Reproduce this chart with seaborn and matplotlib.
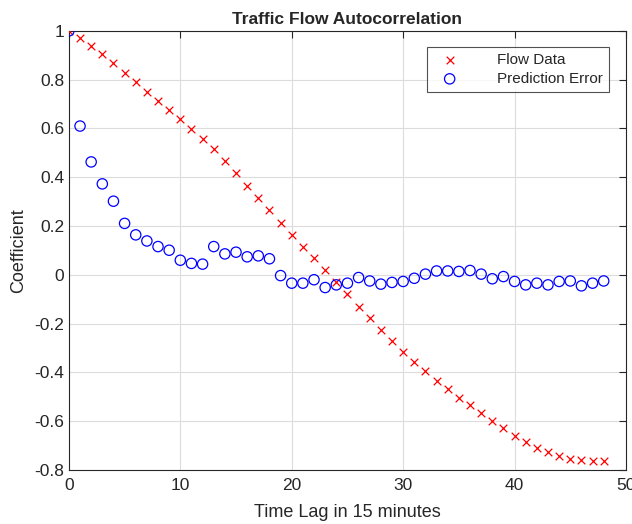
import numpy as np
import pandas as pd
import seaborn as sns
import matplotlib.pyplot as plt

# lags 0..48 (15 minute steps)
lags = list(range(49))

flow_data = [1.0, 0.97, 0.94, 0.904, 0.867, 0.829, 0.79, 0.751, 0.713, 0.676,
             0.638, 0.598, 0.557, 0.516, 0.467, 0.419, 0.366, 0.316, 0.264, 0.214,
             0.164, 0.116, 0.068, 0.02, -0.03, -0.08, -0.13, -0.178, -0.226, -0.272,
             -0.315, -0.357, -0.395, -0.434, -0.469, -0.504, -0.535, -0.567, -0.601, -0.629,
             -0.659, -0.687, -0.71, -0.728, -0.742, -0.753, -0.76, -0.763, -0.763]

pred_error = [1.0, 0.61, 0.463, 0.373, 0.302, 0.211, 0.164, 0.139, 0.116, 0.101,
              0.06, 0.047, 0.044, 0.116, 0.086, 0.093, 0.074, 0.078, 0.066, -0.003,
              -0.034, -0.034, -0.02, -0.052, -0.041, -0.034, -0.011, -0.025, -0.038, -0.031,
              -0.027, -0.014, 0.003, 0.016, 0.016, 0.014, 0.018, 0.003, -0.016, -0.007,
              -0.027, -0.041, -0.034, -0.041, -0.027, -0.025, -0.045, -0.034, -0.025]

df = pd.DataFrame({'lag': lags, 'flow': flow_data, 'err': pred_error})

sns.set_style('white')
plt.rcParams['font.family'] = ['Liberation Sans', 'DejaVu Sans']

fig = plt.figure(figsize=(6.32, 5.24), dpi=100)
ax = fig.add_axes([0.109, 0.103, 0.8815, 0.838])

sns.scatterplot(data=df, x='lag', y='flow', marker='x', color='red', s=30,
                linewidth=0.9, label='Flow Data', ax=ax, zorder=3)
sns.scatterplot(data=df, x='lag', y='err', marker='o', facecolors='none',
                edgecolor='blue', s=55, linewidth=0.9, label='Prediction Error',
                ax=ax, zorder=3)

ax.set_xlim(0, 50)
ax.set_ylim(-0.8, 1.0)
ax.set_xticks(np.arange(0, 51, 10))
ax.set_yticks(np.round(np.arange(-0.8, 1.01, 0.2), 1))
ax.set_yticklabels(['-0.8', '-0.6', '-0.4', '-0.2', '0', '0.2', '0.4', '0.6', '0.8', '1'])
ax.grid(True, color='#dcdcdc', linewidth=0.8)
ax.set_axisbelow(True)
ax.tick_params(direction='in', top=True, right=True, labelsize=12.5,
               colors='#262626', length=5, width=0.8)
ax.tick_params(axis='x', pad=6)
for sp in ax.spines.values():
    sp.set_color('#262626')
    sp.set_linewidth(0.8)

ax.set_title('Traffic Flow Autocorrelation', fontsize=12.5, fontweight='bold', pad=5)
ax.set_xlabel('Time Lag in 15 minutes', fontsize=13, color='#262626', labelpad=8)
ax.set_ylabel('Coefficient', fontsize=13, color='#262626', labelpad=5)

leg = ax.legend(loc='upper right', bbox_to_anchor=(0.9695, 0.963), borderaxespad=0,
                fontsize=11, frameon=True, fancybox=False, edgecolor='#262626',
                handletextpad=2.0, handlelength=2.2, borderpad=0.4, labelspacing=0.3)
leg.get_frame().set_linewidth(0.8)

fig.savefig('out.png', dpi=100)
